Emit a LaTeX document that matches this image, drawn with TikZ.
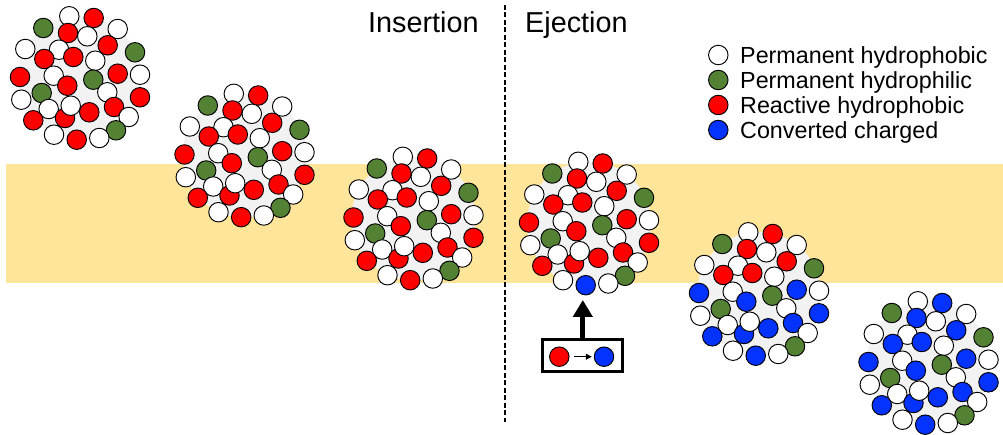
\documentclass[tikz,border=0pt]{standalone}
\usepackage{fontspec}
\setmainfont{Liberation Sans}
\usetikzlibrary{arrows.meta}

\definecolor{membrane}{HTML}{FFE599}
\definecolor{haze}{HTML}{F2F2F2}
\definecolor{leafgreen}{HTML}{548235}
\definecolor{reactred}{HTML}{FF0000}
\definecolor{chargeblue}{HTML}{0433FF}
\colorlet{cW}{white}
\colorlet{cG}{leafgreen}

\tikzset{
  bead/.style={circle, draw=black, line width=0.95pt, minimum size=19.5pt, inner sep=0pt},
  beadpath/.style={draw=black, line width=0.95pt},
  divider/.style={line width=1.8pt, dash pattern=on 5pt off 2.5pt},
  title/.style={anchor=base west, inner sep=0pt, font=\fontsize{28.8}{32}\selectfont},
  legendtext/.style={anchor=base west, inner sep=0pt, font=\fontsize{23.3}{27}\selectfont},
  convbox/.style={draw=black, line width=3pt, minimum width=80.3pt, minimum height=32pt, inner sep=0pt},
  bigarrow/.style={line width=5pt, -{Triangle[width=19pt,length=17pt]}},
  smallarrow/.style={line width=1.3pt, -{Triangle[width=6pt,length=6pt]}},
}

% One micelle: #1 centre, #2 colour of upper reactive beads,
% #3 colour of lower reactive beads, #4 colour of the bottom bead
\newcommand{\drawcluster}[4]{%
  \begin{scope}[shift={#1}]
    \colorlet{cU}{#2}\colorlet{cL}{#3}\colorlet{cX}{#4}
    \fill[haze] (0,0) circle (62pt);
    \foreach \bx/\by/\bk in {
      -10.7/-61.7/W, 13.7/-60/U, -36.7/-50/G, -12/-45/U, 7.3/-41.7/W,
      37.7/-49/W, 27.7/-32.7/U, 55/-25.7/G, -54.7/-29/W, -21/-28.3/W,
      -35.7/-19/U, -6.7/-21/U, 15.3/-17.3/W, -60/-1/L, -26.3/-2.3/W,
      -12.7/7.7/L, 13.3/1.7/G, 37.7/-4.3/L, 60/-3.3/W, -38.3/15/G,
      27.3/14.3/W, 60/19.3/L, -58.7/21.7/W, -31.3/31/W, -15/40/L,
      -9.3/27.7/W, 9.3/34.3/L, 34/29/L, 48.7/39/W, -46.7/42.3/L,
      36/52.3/G, -26/56.7/W, -3.3/61.7/X, 19.3/60/W}{
      \draw[beadpath, fill=c\bk] (\bx,\by) circle (9.75pt);
    }
  \end{scope}}

\begin{document}
\begin{tikzpicture}[x=1pt, y=-1pt]
  \useasboundingbox (0,0) rectangle (1003,435);

  % lipid membrane
  \fill[membrane] (6,164) rectangle (1003,283);

  % divider between the two stages
  \coordinate (dtop) at (505,5);
  \coordinate (dbot) at (505,422);
  \draw[divider] (dtop) -- (dbot);

  \node[title] (ins) at (368,33) {Insertion};
  \node[title] (ej) at (525,33) {Ejection};

  % micelles
  \drawcluster{(80,78)}{reactred}{reactred}{reactred}
  \drawcluster{(244.5,155.5)}{reactred}{reactred}{reactred}
  \drawcluster{(413.5,218.5)}{reactred}{reactred}{reactred}
  \drawcluster{(589,223.5)}{reactred}{reactred}{chargeblue}
  \drawcluster{(759,294)}{reactred}{chargeblue}{chargeblue}
  \drawcluster{(928.5,363)}{chargeblue}{chargeblue}{chargeblue}

  % conversion inset
  \node[convbox] (conv) at (582.8,355.8) {};
  \node[bead, fill=reactred] (rin) at (559.3,356.7) {};
  \node[bead, fill=chargeblue] (bin) at (604,356.7) {};
  \draw[smallarrow, shorten <=4pt, shorten >=2pt] (rin) -- (bin);
  \coordinate (tip) at (583.5,300);
  \draw[bigarrow] (conv.north) -- (conv.north |- tip);

  % legend
  \node[bead, fill=white] (lw) at (718.3,55) {};
  \node[bead, fill=leafgreen] (lg) at (718.3,80) {};
  \node[bead, fill=reactred] (lr) at (718.3,105) {};
  \node[bead, fill=chargeblue] (lb) at (718.3,130) {};
  \node[legendtext] (tw) at (740,63.5) {Permanent hydrophobic};
  \node[legendtext] (tg) at (740,88.5) {Permanent hydrophilic};
  \node[legendtext] (tr) at (740,113.5) {Reactive hydrophobic};
  \node[legendtext] (tb) at (740,138.5) {Converted charged};
\end{tikzpicture}
\end{document}
